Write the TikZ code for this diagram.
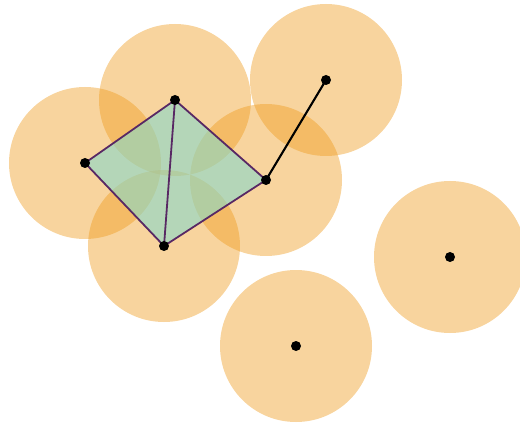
\documentclass[tikz,border=0pt]{standalone}
\definecolor{disk}{RGB}{238,153,24}
\definecolor{cellgreen}{RGB}{135,217,203}
\definecolor{edgepurple}{RGB}{88,40,100}
\tikzset{
  cover/.style={circle,inner sep=0pt,minimum size=152pt,fill=disk,fill opacity=0.42,draw=none},
  pt/.style={circle,inner sep=0pt,minimum size=10pt,fill=black},
  cell/.style={fill=cellgreen,fill opacity=0.6,draw=none},
  celledge/.style={draw=edgepurple,line width=1.8pt,line join=round},
  link/.style={draw=black,line width=2.1pt}
}
\begin{document}
\begin{tikzpicture}[x=1pt,y=-1pt]
\useasboundingbox (0,0) rectangle (520,425);
% disks
\node[cover] (ca) at (85,163) {};
\node[cover] (cb) at (175,100) {};
\node[cover] (cc) at (266,180) {};
\node[cover] (cd) at (164,246) {};
\node[cover] (ce) at (326,80) {};
\node[cover] (cf) at (450,257) {};
\node[cover] (cg) at (296,346) {};
% points
\coordinate (a) at (85,163);
\coordinate (b) at (175,100);
\coordinate (c) at (266,180);
\coordinate (d) at (164,246);
\coordinate (e) at (326,80);
\coordinate (f) at (450,257);
\coordinate (g) at (296,346);
% cell
\path[cell] (a) -- (b) -- (c) -- (d) -- cycle;
\draw[celledge] (a) -- (b) -- (c) -- (d) -- cycle;
\draw[celledge] (b) -- (d);
\draw[link] (c) -- (e);
% dots
\node[pt] (pa) at (a) {};
\node[pt] (pb) at (b) {};
\node[pt] (pc) at (c) {};
\node[pt] (pd) at (d) {};
\node[pt] (pe) at (e) {};
\node[pt] (pf) at (f) {};
\node[pt] (pg) at (g) {};
\end{tikzpicture}
\end{document}
